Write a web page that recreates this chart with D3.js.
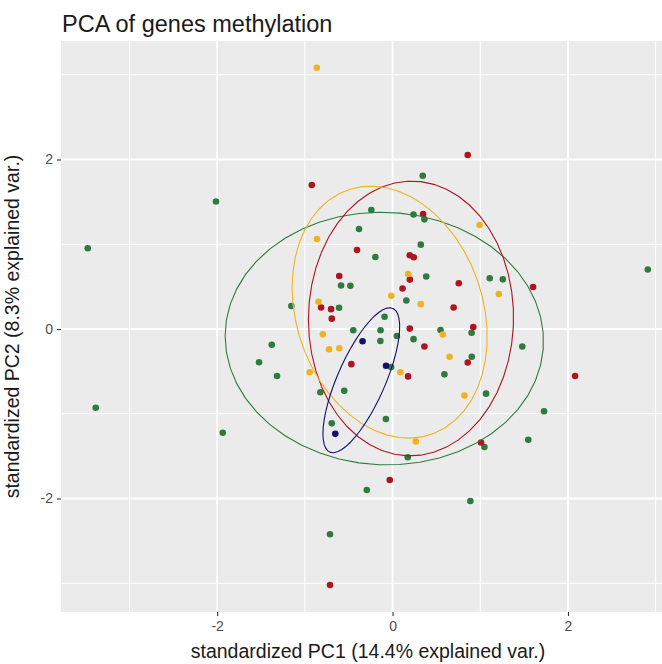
<!DOCTYPE html>
<html>
<head>
<meta charset="utf-8">
<script src="https://cdn.jsdelivr.net/npm/d3@7"></script>
<style>
html,body{margin:0;padding:0;background:#fff;overflow:hidden}
svg{display:block}
</style>
</head>
<body>
<svg id="chart" width="662" height="664"></svg>
<script>
// ---------- texts ----------
const chartTitle = "PCA of genes methylation";
const xTitle = "standardized PC1 (14.4% explained var.)";
const yTitle = "standardized PC2 (8.3% explained var.)";

// ---------- axes ----------
const xTicks = [-2, 0, 2];
const yTicks = [-2, 0, 2];
const xMinorTicks = [-3, -1, 1, 3];
const yMinorTicks = [-3, -1, 1, 3];
const xDomain = [-3.78, 3.22];
const yDomain = [-3.339, 3.398];

// ---------- groups ----------
const groupNames = ["green", "red", "yellow", "navy"];
const groupColors = ["#2f7b3e", "#ad1520", "#efb320", "#12126e"];

// ---------- series values (PC1, PC2) ----------
const greenPC1 = [-2.013,-3.475,2.910,-3.384,-1.936,-0.713,-0.294,0.887,0.344,-0.242,0.239,0.363,-0.382,0.322,-0.196,0.384,-0.481,-0.587,0.157,-1.154,-0.610,1.108,1.257,-1.377,-1.522,-1.317,-0.823,-0.551,-0.693,-0.091,-0.448,-0.137,-0.139,0.049,0.239,0.547,-0.017,0.591,-0.076,0.173,0.901,0.903,1.479,1.066,1.727,1.547,1.047];
const greenPC2 = [1.504,0.952,0.702,-0.929,-1.224,-2.422,-1.900,-2.029,1.809,1.404,1.351,1.294,1.180,0.995,0.850,0.619,0.511,0.513,0.336,0.271,0.251,0.598,0.586,-0.185,-0.393,-0.555,-0.747,-0.729,-1.113,0.145,-0.015,-0.015,-0.142,-0.083,-0.120,-0.012,-0.448,-0.535,-1.062,-1.514,-0.044,-0.327,-0.206,-0.763,-0.971,-1.306,-1.392];

const redPC1 = [0.857,-0.921,0.348,-0.405,0.196,0.242,-0.608,0.197,0.755,0.114,1.602,0.696,-0.815,-0.701,-0.693,0.196,0.363,0.920,0.857,-0.470,0.177,2.081,1.009,-0.032,-0.713];
const redPC2 = [2.053,1.699,1.355,0.932,0.870,0.846,0.625,0.583,0.539,0.478,0.496,0.254,0.254,0.234,0.122,0.005,-0.206,0.024,-0.395,-0.415,-0.559,-0.555,-1.339,-1.782,-3.021];

const yellowPC1 = [-0.864,-0.861,0.992,0.177,-0.015,0.322,-0.844,1.211,-0.795,-0.724,-0.607,-0.945,0.572,0.650,0.089,0.819,0.265];
const yellowPC2 = [3.083,1.062,1.227,0.649,0.393,0.293,0.322,0.413,-0.063,-0.240,-0.227,-0.511,-0.065,-0.327,-0.511,-0.785,-1.326];

const navyPC1 = [-0.653,-0.342,-0.074];
const navyPC2 = [-1.237,-0.144,-0.433];

const seriesPC1 = [greenPC1, redPC1, yellowPC1, navyPC1];
const seriesPC2 = [greenPC2, redPC2, yellowPC2, navyPC2];
const ellipseProb = 0.68;

// ---------- layout ----------
const W = 662, H = 664;
const panel = {left: 61, top: 41, right: 675, bottom: 612};
const svg = d3.select("#chart");
const FONT = "'Liberation Sans', Arial, Helvetica, sans-serif";

const x = d3.scaleLinear().domain(xDomain).range([panel.left, panel.right]);
const y = d3.scaleLinear().domain(yDomain).range([panel.bottom, panel.top]);

svg.append("rect").attr("x", 0).attr("y", 0).attr("width", W).attr("height", H).attr("fill", "#fff");
svg.append("rect")
  .attr("x", panel.left).attr("y", panel.top)
  .attr("width", panel.right - panel.left).attr("height", panel.bottom - panel.top)
  .attr("fill", "#ebebeb");

const grid = svg.append("g");
grid.selectAll(".vmin").data(xMinorTicks).join("line")
  .attr("x1", d => x(d)).attr("x2", d => x(d))
  .attr("y1", panel.top).attr("y2", panel.bottom)
  .attr("stroke", "#fff").attr("stroke-width", 1.0);
grid.selectAll(".hmin").data(yMinorTicks).join("line")
  .attr("y1", d => y(d)).attr("y2", d => y(d))
  .attr("x1", panel.left).attr("x2", panel.right)
  .attr("stroke", "#fff").attr("stroke-width", 1.0);
grid.selectAll(".vmaj").data(xTicks).join("line")
  .attr("x1", d => x(d)).attr("x2", d => x(d))
  .attr("y1", panel.top).attr("y2", panel.bottom)
  .attr("stroke", "#fff").attr("stroke-width", 1.8);
grid.selectAll(".hmaj").data(yTicks).join("line")
  .attr("y1", d => y(d)).attr("y2", d => y(d))
  .attr("x1", panel.left).attr("x2", panel.right)
  .attr("stroke", "#fff").attr("stroke-width", 1.8);

// axes
const xAxis = d3.axisBottom(x).tickValues(xTicks).tickSize(4).tickPadding(5).tickFormat(d3.format("d"));
const yAxis = d3.axisLeft(y).tickValues(yTicks).tickSize(4).tickPadding(4).tickFormat(d3.format("d"));
const gx = svg.append("g").attr("transform", `translate(0,${panel.bottom})`).call(xAxis);
const gy = svg.append("g").attr("transform", `translate(${panel.left},0)`).call(yAxis);
[gx, gy].forEach(g => {
  g.select(".domain").remove();
  g.selectAll(".tick line").attr("stroke", "#333").attr("stroke-width", 1.1);
  g.selectAll(".tick text").attr("fill", "#4d4d4d").style("font-family", FONT).style("font-size", "14px");
});
gx.selectAll(".tick text").text(d => d < 0 ? "-" + Math.abs(d) : String(d));
gy.selectAll(".tick text").text(d => d < 0 ? "-" + Math.abs(d) : String(d));

// points
const plot = svg.append("g");
groupNames.forEach((g, gi) => {
  const pts = seriesPC1[gi].map((v, i) => ({px: v, py: seriesPC2[gi][i]}));
  plot.append("g").selectAll("circle").data(pts).join("circle")
    .attr("cx", d => x(d.px)).attr("cy", d => y(d.py))
    .attr("r", 3.3).attr("fill", groupColors[gi]);
});

// ellipses (ggbiplot style: chol of covariance scaled by sqrt(qchisq(p, 2)))
const ed = Math.sqrt(-2 * Math.log(1 - ellipseProb));
const theta = [];
for (let i = 0; i < 50; i++) theta.push(-Math.PI + 2 * Math.PI * i / 49);
for (let i = 0; i < 50; i++) theta.push(Math.PI - 2 * Math.PI * i / 49);
const line = d3.line().x(d => x(d[0])).y(d => y(d[1]));
groupNames.forEach((g, gi) => {
  const a = seriesPC1[gi], b = seriesPC2[gi];
  const n = a.length;
  const ma = d3.mean(a), mb = d3.mean(b);
  let sxx = 0, syy = 0, sxy = 0;
  for (let i = 0; i < n; i++) {
    sxx += (a[i] - ma) ** 2; syy += (b[i] - mb) ** 2; sxy += (a[i] - ma) * (b[i] - mb);
  }
  sxx /= (n - 1); syy /= (n - 1); sxy /= (n - 1);
  const r11 = Math.sqrt(sxx), r12 = sxy / r11, r22 = Math.sqrt(syy - r12 * r12);
  const pts = theta.map(t => {
    const c = Math.cos(t), s = Math.sin(t);
    return [ma + ed * c * r11, mb + ed * (c * r12 + s * r22)];
  });
  plot.append("path").attr("d", line(pts))
    .attr("fill", "none").attr("stroke", groupColors[gi]).attr("stroke-width", 1.1);
});

// titles
svg.append("text").attr("x", 62).attr("y", 32)
  .style("font-family", FONT).style("font-size", "23.5px").attr("fill", "#1a1a1a")
  .text(chartTitle);
svg.append("text").attr("x", (panel.left + panel.right) / 2).attr("y", 658)
  .attr("text-anchor", "middle")
  .style("font-family", FONT).style("font-size", "19.5px").attr("fill", "#1a1a1a")
  .text(xTitle);
svg.append("text")
  .attr("transform", `translate(19,${(panel.top + panel.bottom) / 2}) rotate(-90)`)
  .attr("text-anchor", "middle")
  .style("font-family", FONT).style("font-size", "19.5px").attr("fill", "#1a1a1a")
  .text(yTitle);
</script>
</body>
</html>
